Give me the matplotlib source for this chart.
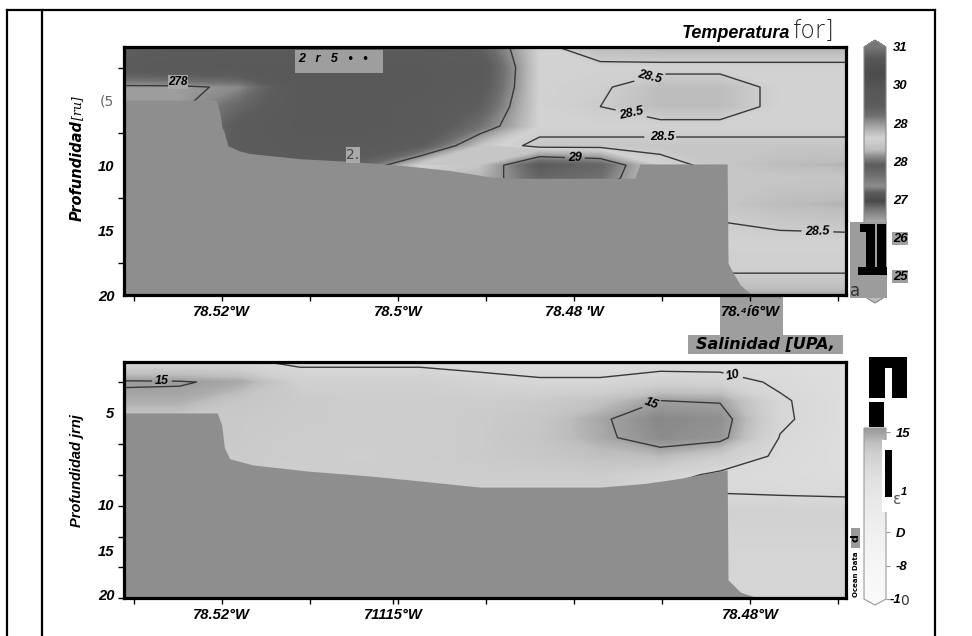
import numpy as np
import matplotlib
matplotlib.use("Agg")
import matplotlib.pyplot as plt
from matplotlib import font_manager
from matplotlib.colors import ListedColormap, Normalize
from matplotlib.patches import Rectangle
from matplotlib.lines import Line2D
import matplotlib.cm as cm

W, H = 972, 636

# ---------------- datos ----------------
lon = [-78.5311, -78.5248, -78.5180, -78.5111, -78.5043, -78.4975, -78.4907,
       -78.4839, -78.4770, -78.4702, -78.4634, -78.4566, -78.4491]
depth = [0.9, 2.5, 4.0, 5.5, 7.0, 8.5, 10.0, 11.0, 13.0, 16.0, 18.0, 20.0]

temperatura = [
    [29.40, 29.45, 29.50, 29.50, 29.50, 29.50, 29.40, 28.60, 28.25, 28.20, 28.20, 28.20, 28.20],
    [29.60, 29.70, 29.70, 29.70, 29.70, 29.70, 29.60, 28.60, 28.60, 28.60, 28.60, 28.60, 28.60],
    [28.95, 28.95, 29.05, 29.70, 29.70, 29.70, 29.55, 28.60, 28.55, 28.30, 28.30, 28.60, 28.60],
    [28.95, 28.95, 29.30, 29.70, 29.70, 29.65, 29.40, 28.60, 28.50, 28.30, 28.30, 28.60, 28.60],
    [28.95, 28.95, 29.50, 29.70, 29.70, 29.65, 29.20, 28.60, 28.60, 28.60, 28.60, 28.60, 28.60],
    [28.95, 28.95, 29.50, 29.65, 29.65, 29.45, 28.70, 28.42, 28.42, 28.42, 28.42, 28.42, 28.42],
    [28.95, 28.95, 29.40, 29.50, 29.30, 28.60, 28.70, 29.45, 29.30, 28.60, 28.42, 28.30, 28.25],
    [28.95, 28.95, 29.30, 29.30, 29.00, 28.70, 28.80, 29.30, 29.20, 28.60, 28.42, 28.42, 28.42],
    [28.95, 28.95, 28.95, 28.95, 28.95, 28.95, 28.95, 28.90, 28.70, 28.42, 28.42, 28.30, 28.25],
    [28.95, 28.95, 28.95, 28.95, 28.95, 28.95, 28.95, 28.90, 28.80, 28.60, 28.60, 28.60, 28.60],
    [28.95, 28.95, 28.95, 28.95, 28.95, 28.95, 28.95, 28.90, 28.80, 28.55, 28.55, 28.55, 28.55],
    [28.95, 28.95, 28.95, 28.95, 28.95, 28.95, 28.95, 28.90, 28.80, 28.20, 28.20, 28.20, 28.20],
]

salinidad = [
    [10.6, 10.6, 10.5, 9.5, 9.5, 9.5, 9.2, 9.0, 9.0, 9.0, 9.0, 8.8, 8.6],
    [15.3, 15.2, 14.5, 11.5, 11.5, 11.5, 10.8, 10.3, 10.3, 11.2, 11.0, 9.6, 8.6],
    [14.3, 14.3, 12.6, 12.2, 12.0, 12.0, 12.0, 12.2, 13.0, 15.0, 14.8, 10.3, 8.6],
    [12.5, 12.5, 12.3, 12.2, 12.0, 12.0, 12.2, 12.6, 14.6, 16.8, 16.2, 10.4, 8.6],
    [12.5, 12.5, 12.3, 12.0, 11.9, 12.0, 12.2, 12.8, 14.4, 16.5, 15.8, 9.9, 8.6],
    [12.3, 12.3, 12.2, 12.0, 11.8, 12.0, 12.2, 12.5, 13.2, 13.6, 12.0, 9.5, 8.6],
    [12.0, 12.0, 12.0, 12.0, 12.0, 12.0, 12.0, 12.0, 12.0, 11.0, 9.5, 9.2, 8.8],
    [12.0, 12.0, 12.0, 12.0, 12.0, 12.0, 12.0, 12.0, 12.0, 10.0, 9.6, 9.4, 9.2],
    [12.0, 12.0, 12.0, 12.0, 12.0, 12.0, 12.0, 12.0, 12.0, 11.2, 11.2, 11.2, 11.2],
    [12.0, 12.0, 12.0, 12.0, 12.0, 12.0, 12.0, 12.0, 12.0, 10.6, 10.6, 10.6, 10.6],
    [12.0, 12.0, 12.0, 12.0, 12.0, 12.0, 12.0, 12.0, 12.0, 10.6, 10.6, 10.6, 10.6],
    [12.0, 12.0, 12.0, 12.0, 12.0, 12.0, 12.0, 12.0, 12.0, 10.6, 10.6, 10.6, 10.6],
]

# fondo (batimetria) de cada seccion
fondo_lon_t = [-78.5311, -78.5206, -78.5202, -78.5200, -78.5197, -78.5193, -78.5180,
               -78.5168, -78.5111, -78.5055, -78.4998, -78.4941, -78.4895, -78.4861,
               -78.4731, -78.4725, -78.4626, -78.4625, -78.4619, -78.4611, -78.4597, -78.4491]
fondo_prof_t = [5.0, 5.0, 6.0, 7.0, 7.5, 8.5, 8.9, 9.1, 9.5, 9.7, 10.0, 10.4, 10.9, 11.0,
                11.0, 9.9, 9.9, 17.5, 18.3, 19.2, 20.0, 21.0]
fondo_lon_s = [-78.5311, -78.5205, -78.5200, -78.5197, -78.5191, -78.5165, -78.5103,
               -78.5032, -78.4975, -78.4907, -78.4770, -78.4719, -78.4680, -78.4642,
               -78.4626, -78.4625, -78.4611, -78.4592, -78.4491]
fondo_prof_s = [5.0, 5.0, 6.0, 7.8, 8.7, 9.2, 9.7, 10.1, 10.5, 11.0, 11.0, 10.7, 10.3,
                9.8, 9.6, 18.5, 19.5, 19.95, 21.0]

# escalas de gris (valor -> nivel de gris 0-255)
escala_t_val = [24.45, 25.0, 25.5, 26.0, 26.4, 26.7, 26.95, 27.15, 27.35, 27.6, 27.9,
                28.1, 28.3, 28.45, 28.6, 28.8, 29.0, 29.2, 29.45, 29.8, 30.3, 30.7, 31.0]
escala_t_gris = [190, 160, 150, 165, 170, 122, 74, 90, 140, 112, 92,
                 135, 188, 200, 210, 184, 148, 112, 92, 88, 76, 86, 118]
escala_s_val = [-10, -5, 0, 5, 8, 10, 12, 13.5, 15, 17]
escala_s_gris = [250, 246, 240, 232, 224, 216, 205, 190, 160, 134]

niveles_t = [28.5, 29.0]
niveles_s = [10, 15]
etiq_t = {28.5: [(-78.4699, 8.3), (-78.4714, 3.2), (-78.4734, 5.7), (-78.4523, 13.9)],
          29.0: [(-78.4799, 9.4)]}
etiq_s = {10: [(-78.4617, 1.3)], 15: [(-78.5268, 2.6), (-78.4714, 3.85)]}

xt_top = [-78.52, -78.50, -78.48, -78.46]
xt_top_lab = ["78.52°W", "78.5°W", "78.48 'W", "78.⁴í6°W"]
xt_bot = [-78.52, -78.5005, -78.46]
xt_bot_lab = ["78.52°W", "71115°W", "78.48°W"]
yt_top = [5, 10, 15, 20]
yt_top_lab = ["(5", "10", "15", "20"]
yt_bot = [5, 12.4, 16.1, 19.7]
yt_bot_lab = ["5", "10", "15", "20"]
cb_t_ticks = [31, 30, 29, 28, 27, 26, 25]
cb_t_lab = ["31", "30", "28", "28", "27", "26", "25"]
cb_s_ticks = [15, 10, 5, 0, -5, -10]
cb_s_lab = ["15", "", "", "D", "-8", ""]

# ---------------- fuentes ----------------
nombres = {f.name for f in font_manager.fontManager.ttflist}
NARROW = "Liberation Sans Narrow" in nombres
FAM = ["Liberation Sans Narrow" if NARROW else "Liberation Sans", "DejaVu Sans"]
K = 1.0 if NARROW else 0.82
BI = dict(family=FAM, weight="bold", style="italic")

fig = plt.figure(figsize=(W / 100, H / 100), dpi=100)


def px_axes(x0, y0, x1, y1):
    return fig.add_axes([x0 / W, 1 - y1 / H, (x1 - x0) / W, (y1 - y0) / H])


def caja(x0, y0, x1, y1, color, z=6):
    fig.add_artist(Rectangle((x0 / W, 1 - y1 / H), (x1 - x0) / W, (y1 - y0) / H,
                             transform=fig.transFigure, facecolor=color,
                             edgecolor="none", zorder=z))


def texto(x, y, s, **kw):
    kw.setdefault("zorder", 7)
    return fig.text(x / W, 1 - y / H, s, **kw)


def gris_cmap(vals, grises, vmin, vmax, n=512):
    g = np.interp(np.linspace(vmin, vmax, n), vals, grises) / 255.0
    return ListedColormap(np.column_stack([g, g, g]))


def estilo(labels, size):
    for t in labels:
        t.set_fontfamily(FAM)
        t.set_fontweight("bold")
        t.set_fontstyle("italic")
        t.set_fontsize(size)


def seccion(ax, campo, cmap, vmin, vmax, f_lon, f_prof, niveles, etiq):
    ax.contourf(lon, depth, campo, levels=np.linspace(vmin, vmax, 500), cmap=cmap,
                antialiased=False, zorder=1)
    for lev in niveles:
        cs = ax.contour(lon, depth, campo, levels=[lev], colors="#383838",
                        linewidths=1.0, zorder=2)
        txt = ax.clabel(cs, fmt=lambda v: f"{v:g}", manual=etiq[lev], inline=True,
                        inline_spacing=2, fontsize=9)
        for t in txt:
            t.set_fontweight("bold")
            t.set_fontstyle("italic")
            t.set_fontfamily(FAM)
            t.set_color("black")
    ax.fill_between(f_lon, f_prof, 21, color="#8e8e8e", lw=0, zorder=3)
    ax.set_xlim(lon[0], lon[-1])
    ax.set_ylim(20, 0.9)
    for s in ax.spines.values():
        s.set_linewidth(2.3)
        s.set_zorder(5)
    ax.set_xticks(np.arange(-78.53, -78.445, 0.01), minor=True)
    ax.set_yticks(np.arange(2.5, 20.1, 2.5), minor=True)
    ax.tick_params(axis="x", which="both", direction="out", length=4, width=1, pad=3)
    ax.tick_params(axis="y", which="minor", direction="out", length=4, width=1)
    ax.tick_params(axis="y", which="major", length=0, pad=7)


# ---------------- seccion de temperatura ----------------
tmin, tmax = 24.45, 31.0
cmt = gris_cmap(escala_t_val, escala_t_gris, tmin, tmax)
ax1 = px_axes(124, 46.7, 846, 295.5)
seccion(ax1, temperatura, cmt, tmin, tmax, fondo_lon_t, fondo_prof_t, niveles_t, etiq_t)
ax1.set_xticks(xt_top, xt_top_lab)
ax1.set_yticks(yt_top, yt_top_lab)
estilo(ax1.get_xticklabels(), 13 * K)
estilo(ax1.get_yticklabels(), 13 * K)
t5 = ax1.get_yticklabels()[0]
t5.set_fontweight("normal")
t5.set_fontstyle("normal")
t5.set_color("#666666")
t5.set_fontfamily(["DejaVu Sans"])
t5.set_fontsize(10)

# ---------------- seccion de salinidad ----------------
smin, smax, sbar = -10.0, 17.0, 15.6
cms = gris_cmap(escala_s_val, escala_s_gris, smin, smax)
ax2 = px_axes(124, 362.3, 846, 598.3)
seccion(ax2, salinidad, cms, smin, smax, fondo_lon_s, fondo_prof_s, niveles_s, etiq_s)
ax2.set_xticks(xt_bot, xt_bot_lab)
ax2.set_yticks(yt_bot, yt_bot_lab)
estilo(ax2.get_xticklabels(), 13 * K)
estilo(ax2.get_yticklabels(), 13 * K)

# ---------------- barras de color ----------------
cax1 = px_axes(864, 40, 886, 303)
cb1 = fig.colorbar(cm.ScalarMappable(Normalize(tmin, tmax), cmt), cax=cax1,
                   extend="both", extendfrac=0.028)
cb1.set_ticks(cb_t_ticks, labels=cb_t_lab)
cb1.outline.set_edgecolor("#8a8a8a")
cb1.outline.set_linewidth(0.8)
cax1.tick_params(length=0, pad=5)
estilo(cax1.get_yticklabels(), 11.5 * K)
for t in cax1.get_yticklabels()[-2:]:
    t.set_bbox(dict(facecolor="#a0a0a0", edgecolor="none", pad=0.5))

cms_bar = gris_cmap(escala_s_val, escala_s_gris, smin, sbar)
cax2 = px_axes(864, 428, 886, 605)
cb2 = fig.colorbar(cm.ScalarMappable(Normalize(smin, sbar), cms_bar), cax=cax2,
                   extend="min", extendfrac=0.035)
cb2.set_ticks(cb_s_ticks, labels=cb_s_lab)
cb2.outline.set_edgecolor("#9a9a9a")
cb2.outline.set_linewidth(0.8)
cax2.tick_params(length=3, width=0.8, color="#999999", pad=4)
estilo(cax2.get_yticklabels(), 11.5 * K)

# ---------------- titulos y ejes ----------------
texto(790, 33, "Temperatura", ha="right", va="center", fontsize=13,
      family=["Liberation Sans", "DejaVu Sans"], weight="bold", style="italic")
texto(793, 31, "for]", ha="left", va="center", fontsize=17, color="#222222",
      family=["DejaVu Sans"], weight=200)
caja(688, 335, 843, 354, "#9e9e9e", z=1)
caja(720, 297, 783, 335, "#9e9e9e", z=-1)
texto(765, 344, "Salinidad [UPA,", ha="center", va="center", fontsize=11.5,
      family=["DejaVu Sans"], weight="bold", style="italic")

texto(77, 170, "Profundidad", rotation=90, ha="center", va="center", fontsize=10.5,
      family=["DejaVu Sans"], weight="bold", style="italic")
texto(78, 108, "[ru]", rotation=90, ha="center", va="center", fontsize=9,
      family=["DejaVu Serif"], style="italic")
texto(77, 471, "Profundidad jrnj", rotation=90, ha="center", va="center", fontsize=10.5,
      family=["Liberation Sans", "DejaVu Sans"], weight="bold", style="italic")

# ---------------- restos del escaneo ----------------
caja(295, 50, 383, 73, "#9e9e9e")
texto(298, 59, "2   r   5   •   •", ha="left", va="center", fontsize=9, **BI)
texto(178, 82, "278", ha="center", va="center", fontsize=9 * K + 1,
      bbox=dict(facecolor="#a6a6a6", edgecolor="none", pad=0.5), **BI)
texto(353, 155, "2.", ha="center", va="center", fontsize=10, color="#444444",
      bbox=dict(facecolor="#a9a9a9", edgecolor="none", pad=0.5))

caja(850, 222, 887, 298, "#9c9c9c")
caja(866, 224, 875, 271, "black")
caja(877, 224, 886, 271, "black")
caja(858, 267, 887, 275, "black")
caja(860, 224, 868, 232, "black")
texto(855, 291, "a", ha="center", va="center", fontsize=12, color="#333333")

caja(869, 357, 907, 398, "black")
caja(885, 368, 892, 398, "white", z=6.5)
caja(869, 402, 884, 427, "black")
caja(882, 440, 907, 512, "white")
caja(885, 450, 892, 497, "black")
texto(893, 500, "ε", ha="left", va="center", fontsize=11, color="#555555")
texto(901, 492, "1", ha="left", va="center", fontsize=8, **BI)
texto(890, 600, "-1", ha="left", va="center", fontsize=11.5 * K, **BI)
texto(900, 601, "0", ha="left", va="center", fontsize=10, color="#333333",
      family=["DejaVu Sans"])

caja(851, 528, 860, 548, "#9a9a9a")
texto(855.5, 538, "d", rotation=90, ha="center", va="center", fontsize=8, weight="bold")
texto(856, 574, "Ocean Data", rotation=90, ha="center", va="center", fontsize=5,
      weight="bold")

# marco exterior (tabla)
for x0, y0, x1, y1 in [(7, 10, 7, 636), (42, 10, 42, 636), (935, 10, 935, 636),
                       (7, 10, 935, 10)]:
    fig.add_artist(Line2D([x0 / W, x1 / W], [1 - y0 / H, 1 - y1 / H],
                          transform=fig.transFigure, color="black", lw=1.6))

fig.savefig("out.png", dpi=100)
